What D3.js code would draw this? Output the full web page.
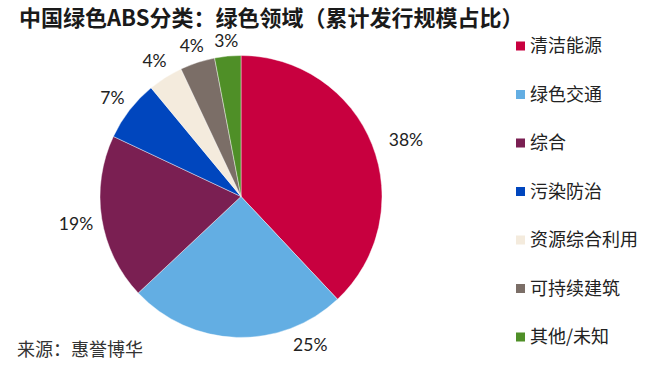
<!DOCTYPE html>
<html><head><meta charset="utf-8">
<script src="https://cdn.jsdelivr.net/npm/d3@7"></script>
<style>
html,body{margin:0;padding:0;background:#fff;}
svg{display:block;}
</style></head>
<body>
<svg id="chart" width="664" height="371"></svg>
<script>
const title = "中国绿色ABS分类：绿色领域（累计发行规模占比）";
const source = "来源：惠誉博华";
const categories = ["清洁能源","绿色交通","综合","污染防治","资源综合利用","可持续建筑","其他/未知"];
const values = [38, 25, 19, 7, 4, 4, 3];
const colors = ["#C8003F","#63AEE3","#7A1F52","#0046BE","#F4EBDD","#7B6E67","#4F8F27"];

const svg = d3.select("#chart");
const cx = 241, cy = 196.5, r = 141;

svg.append("text").attr("x", 19).attr("y", 26)
  .attr("font-family", "'Noto Sans CJK SC', sans-serif").attr("font-weight", "bold")
  .attr("font-size", 22).attr("fill", "#1a1a1a").text(title);

const color = d3.scaleOrdinal().domain(categories).range(colors);
const pie = d3.pie().sort(null).value(d => d.v);
const data = categories.map((c, i) => ({c, v: values[i]}));
const arcs = pie(data);
const arc = d3.arc().innerRadius(0).outerRadius(r);

const g = svg.append("g").attr("transform", `translate(${cx},${cy})`);
g.selectAll("path").data(arcs).join("path")
  .attr("d", arc).attr("fill", d => color(d.data.c))
  .attr("stroke", "#fff").attr("stroke-width", 0.6).attr("stroke-opacity", 0.7);

// outside-end labels
const labelAdjust = {"清洁能源": {da: 2.5, dr: 7}, "绿色交通": {da: -27, dr: 0}};
const gap = 8, hh = 7;
g.selectAll("text.lbl").data(arcs).join("text").attr("class", "lbl")
  .attr("font-family", "Lato, sans-serif").attr("font-size", 17.5).attr("fill", "#222")
  .attr("text-anchor", "middle").attr("dominant-baseline", "central")
  .text(d => d.data.v + "%")
  .each(function(d) {
    const adj = labelAdjust[d.data.c] || {da: 0, dr: 0};
    const a = (d.startAngle + d.endAngle) / 2 + adj.da * Math.PI / 180;
    const hw = this.getComputedTextLength() / 2;
    const s = Math.sin(a), c = Math.cos(a);
    const rr = r + gap + Math.abs(s) * hw + Math.abs(c) * hh + adj.dr;
    d3.select(this).attr("x", s * rr).attr("y", -c * rr + 0.5);
  });

// legend
const ly = d3.scalePoint().domain(categories).range([46, 337]);
const leg = svg.append("g").selectAll("g").data(categories).join("g")
  .attr("transform", d => `translate(516,${ly(d)})`);
leg.append("rect").attr("x", 0).attr("y", -4.5).attr("width", 9).attr("height", 9)
  .attr("fill", d => color(d));
leg.append("text").attr("x", 14).attr("y", 0).attr("dy", "0.36em")
  .attr("font-family", "'Noto Sans CJK SC', sans-serif").attr("font-size", 18)
  .attr("fill", "#222").text(d => d);

svg.append("text").attr("x", 17).attr("y", 356)
  .attr("font-family", "'Noto Sans CJK SC', sans-serif").attr("font-size", 18)
  .attr("fill", "#333").text(source);
</script>
</body></html>
